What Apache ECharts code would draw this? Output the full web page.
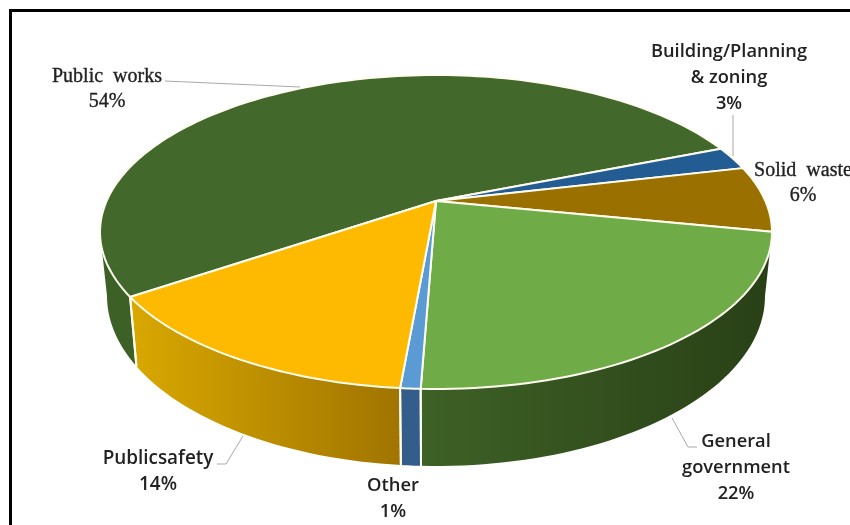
<!DOCTYPE html>
<html>
<head>
<meta charset="utf-8">
<style>html,body{margin:0;padding:0;background:#fff}#c{width:850px;height:525px}</style>
<script src="https://cdn.jsdelivr.net/npm/echarts@6/dist/echarts.min.js"></script>
</head>
<body>
<div id="c"></div>
<script>
// DATA: slice shares as drawn in the picture, and the whole percentages printed beside them
const names = ['Public\u00A0 works', 'Building/Planning\n& zoning', 'Solid\u00A0 waste', 'General\ngovernment', 'Other', 'Publicsafety'];
const drawnShares = [53.5, 2.4, 6.8, 22.45, 0.8, 14.05];
const printedPercents = [54, 3, 6, 22, 1, 14];

// STYLE
const topColors = ['#43682b', '#235c92', '#9a7000', '#6fac47', '#5b9bd5', '#fdba00'];
const wallColors = [['#3c6026', '#3c6026'], ['#1c4a75', '#1c4a75'], ['#7a5900', '#7a5900'],
                    ['#3e6126', '#294016'], ['#335d8a', '#335d8a'], ['#d9a800', '#a07400']];
const edge = '#fffdf0';
// LAYOUT of the tilted pie
const TOP = {cx: 436, cy: 232, rx: 336, ry: 157};
const BOTTOM = {cx: 436, cy: 296, rx: 329, ry: 170};
const apex = {x: 436, y: 201};
const startDeg = 235.6;
// LAYOUT of labels [x, first-line y, font family, size]
const SERIF = '"Liberation Serif"', SANS = '"Open Sans"';
const labelPos = [
  [107, 77, SERIF, 20], [729, 52, SANS, 18.3], [803, 171, SERIF, 20],
  [736, 442, SANS, 18.3], [393, 486, SANS, 18.4], [158, 459, SANS, 18.9]
];
const leaders = [
  [[165, 81], [300, 87]],
  [[733, 115], [733, 156]],
  [],
  [[672, 418], [688, 447], [697, 447]],
  [],
  [[217, 464], [226, 464], [243, 436]]
];

// perspective: the hub sits above the ellipse centre, so rim angles are compressed towards the back
const a = (TOP.cy - apex.y) / TOP.ry;
const b = (1 - Math.sqrt(1 - a * a)) / a;
const k = (1 - b) / (1 + b);
const rad = d => d * Math.PI / 180;
function rimPoint(E, deg) {
  const h = rad(deg) / 2;
  const t = 2 * Math.atan2(k * Math.sin(h), Math.cos(h));
  return [E.cx + E.rx * Math.sin(t), E.cy - E.ry * Math.cos(t)];
}
const total = drawnShares.reduce((s, v) => s + v, 0);
function sweep(i) {
  const from = drawnShares.slice(0, i).reduce((s, v) => s + v, 0);
  return [startDeg + from / total * 360, startDeg + (from + drawnShares[i]) / total * 360];
}
function arcRange(E, s, e) {
  const pts = [], n = Math.max(6, Math.ceil((e - s) / 1.5));
  for (let j = 0; j <= n; j++) pts.push(rimPoint(E, s + (e - s) * j / n));
  return pts;
}
// real angles at which the rim reaches its right and left extremes: only that part of the wall faces us
const frontFrom = 2 * Math.atan(1 / k) * 180 / Math.PI;
const frontTo = 360 - frontFrom;

const chart = echarts.init(document.getElementById('c'), null, {renderer: 'canvas'});
const seriesData = drawnShares.map((v, i) => ({name: names[i], value: v}));

function renderWall(params) {
  const i = params.dataIndex;
  let [s0, e0] = sweep(i);
  if (s0 >= 360) { s0 -= 360; e0 -= 360; }
  const s = Math.max(s0, frontFrom), e = Math.min(e0, frontTo);
  if (e <= s) return {type: 'group', children: []};
  const t = arcRange(TOP, s, e), bt = arcRange(BOTTOM, s, e);
  const g = {type: 'group', children: [{
    type: 'polygon',
    shape: {points: t.concat(bt.slice().reverse())},
    style: {fill: new echarts.graphic.LinearGradient(0, 0, 1, 0, [
      {offset: 0, color: wallColors[i][0]}, {offset: 1, color: wallColors[i][1]}
    ])}
  }]};
  [[s, s0, 0], [e, e0, t.length - 1]].forEach(([clipped, real, j]) => {
    if (clipped === real) g.children.push({
      type: 'line',
      shape: {x1: t[j][0], y1: t[j][1], x2: bt[j][0], y2: bt[j][1]},
      style: {stroke: edge, lineWidth: 2},
      z2: 5
    });
  });
  return g;
}
function renderTop(params) {
  const i = params.dataIndex;
  const [s, e] = sweep(i);
  return {
    type: 'polygon',
    shape: {points: [[apex.x, apex.y]].concat(arcRange(TOP, s, e))},
    style: {fill: topColors[i], stroke: edge, lineWidth: 2, lineJoin: 'round'}
  };
}
const graphics = [{
  type: 'rect', silent: true, z: 20,
  shape: {x: 10.5, y: 10.5, width: 900, height: 600},
  style: {fill: 'none', stroke: '#000', lineWidth: 3}
}];
names.forEach((nm, i) => {
  const [x, y, fam, size] = labelPos[i];
  nm.split('\n').concat(printedPercents[i] + '%').forEach((line, j) => {
    graphics.push({
      type: 'text', z: 15, silent: true, x: x, y: y + j * (fam === SERIF ? 25 : 26),
      style: {
        text: line, fill: '#222', font: (fam === SERIF ? 'normal' : '600') + ' ' + size + 'px ' + fam,
        align: 'center', verticalAlign: 'middle', stroke: fam === SERIF ? '#222' : 'none', lineWidth: 0.35
      }
    });
  });
  if (leaders[i].length) graphics.push({
    type: 'polyline', z: 14, silent: true,
    shape: {points: leaders[i]},
    style: {fill: 'none', stroke: '#a9a9a9', lineWidth: 1}
  });
});
chart.setOption({
  animation: false,
  backgroundColor: '#fff',
  series: [
    {type: 'custom', coordinateSystem: 'none', data: seriesData, renderItem: renderWall, z: 2, silent: true},
    {type: 'custom', coordinateSystem: 'none', data: seriesData, renderItem: renderTop, z: 3, silent: true}
  ],
  graphic: graphics
});
</script>
</body>
</html>
